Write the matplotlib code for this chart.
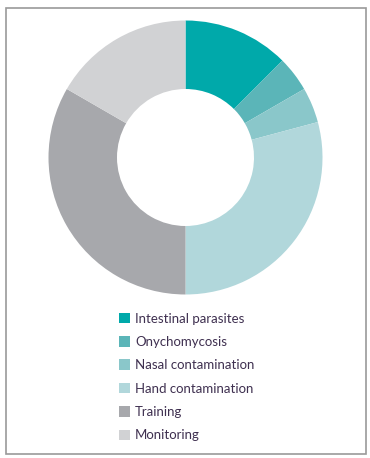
import matplotlib
matplotlib.use("Agg")
import matplotlib.pyplot as plt
from matplotlib.patches import Rectangle

labels = ["Intestinal parasites", "Onychomycosis", "Nasal contamination",
          "Hand contamination", "Training", "Monitoring"]
values = [3, 1, 1, 7, 8, 4]
colors = ["#00a9aa", "#5bb5b8", "#8ac7ca", "#b1d7db", "#a7a8ac", "#d1d2d4"]

text_color = "#3f3050"

fig = plt.figure(figsize=(3.70, 4.58), dpi=100)

# frame around the whole figure
fig.patches.append(Rectangle((5.5 / 370, 1 - 453.5 / 458), 360 / 370, 446 / 458,
                             transform=fig.transFigure, fill=False,
                             edgecolor="#9a9a9a", linewidth=1.2))

ax = fig.add_axes([48.5 / 370, (458 - 294.5) / 458, 274 / 370, 274 / 458])
wedges, _ = ax.pie(values, colors=colors, startangle=90, counterclock=False,
                   radius=1, wedgeprops=dict(width=0.5, linewidth=0))
ax.set_xlim(-1, 1)
ax.set_ylim(-1, 1)
ax.set_aspect("equal")
ax.axis("off")

leg = fig.legend(wedges, labels, loc="upper left",
                 bbox_to_anchor=(112 / 370, 1 - 306 / 458),
                 frameon=False, handlelength=0.85, handleheight=0.85,
                 handletextpad=0.4, labelspacing=0.86, borderpad=0,
                 prop=dict(family=["Lato", "DejaVu Sans"], size=9.5))
for t in leg.get_texts():
    t.set_color(text_color)

fig.savefig("out.png", dpi=100)
